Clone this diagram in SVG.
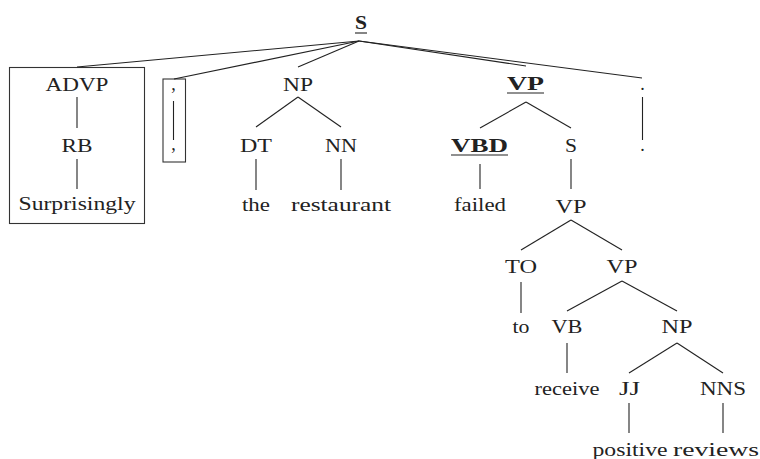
<svg xmlns="http://www.w3.org/2000/svg" width="760" height="459" viewBox="0 0 760 459">
<style>
text{font-family:'Liberation Serif','DejaVu Serif','Noto Serif',serif;font-size:18px;fill:#222;text-anchor:middle}
.b{font-weight:bold}
line{stroke:#222;stroke-width:1.1}
.box{fill:none;stroke:#333;stroke-width:1.1}
</style>
<rect width="760" height="459" fill="#fff"/>
<g id="boxes">
<rect class="box" x="9.5" y="67.5" width="135" height="156"/>
<rect class="box" x="163" y="79" width="22.5" height="83"/>
</g>
<g id="edges">
<line x1="359" y1="41" x2="77" y2="67"/>
<line x1="359" y1="41" x2="174" y2="79"/>
<line x1="359" y1="41" x2="298" y2="67"/>
<line x1="359" y1="41" x2="526" y2="66"/>
<line x1="359" y1="41" x2="642" y2="78"/>
<line x1="77" y1="97" x2="77" y2="128"/>
<line x1="77" y1="159" x2="77" y2="189"/>
<line x1="173.5" y1="101" x2="173.5" y2="140"/>
<line x1="642.5" y1="97" x2="642.5" y2="140"/>
<line x1="298" y1="97" x2="256" y2="127"/>
<line x1="298" y1="97" x2="341" y2="127"/>
<line x1="256" y1="159" x2="256" y2="190"/>
<line x1="341" y1="159" x2="341" y2="190"/>
<line x1="526" y1="102" x2="480" y2="128"/>
<line x1="526" y1="102" x2="571" y2="128"/>
<line x1="480" y1="164" x2="480" y2="189"/>
<line x1="571" y1="159" x2="571" y2="189"/>
<line x1="571" y1="220" x2="521" y2="250"/>
<line x1="571" y1="220" x2="622" y2="250"/>
<line x1="521" y1="282" x2="521" y2="313"/>
<line x1="622" y1="281" x2="567" y2="311"/>
<line x1="622" y1="281" x2="677" y2="311"/>
<line x1="567" y1="343" x2="567" y2="373"/>
<line x1="677" y1="343" x2="629" y2="373"/>
<line x1="677" y1="343" x2="723" y2="373"/>
<line x1="629" y1="403" x2="629" y2="433"/>
<line x1="723" y1="403" x2="723" y2="433"/>
</g>
<g id="n-S"><text class="b" x="361" y="29" textLength="12" lengthAdjust="spacingAndGlyphs">S</text><line x1="355" y1="33" x2="367" y2="33"/></g>
<g id="n-ADVP"><text x="77" y="91" textLength="63" lengthAdjust="spacingAndGlyphs">ADVP</text></g>
<g id="n-RB"><text x="77" y="152" textLength="31" lengthAdjust="spacingAndGlyphs">RB</text></g>
<g id="w-Surprisingly"><text x="77" y="210" textLength="117" lengthAdjust="spacingAndGlyphs">Surprisingly</text></g>
<g id="n-comma"><text x="173.5" y="90">,</text></g>
<g id="w-comma"><text x="173.5" y="150">,</text></g>
<g id="n-NP1"><text x="298" y="91" textLength="30" lengthAdjust="spacingAndGlyphs">NP</text></g>
<g id="n-DT"><text x="256" y="152" textLength="32" lengthAdjust="spacingAndGlyphs">DT</text></g>
<g id="n-NN"><text x="341" y="152" textLength="32" lengthAdjust="spacingAndGlyphs">NN</text></g>
<g id="w-the"><text x="256" y="211" textLength="28" lengthAdjust="spacingAndGlyphs">the</text></g>
<g id="w-restaurant"><text x="341" y="211" textLength="100" lengthAdjust="spacingAndGlyphs">restaurant</text></g>
<g id="n-VP1"><text class="b" x="525.5" y="89.5" textLength="37" lengthAdjust="spacingAndGlyphs">VP</text><line x1="507" y1="93" x2="544" y2="93"/></g>
<g id="n-period"><text x="642.5" y="90">.</text></g>
<g id="w-period"><text x="642.5" y="151">.</text></g>
<g id="n-VBD"><text class="b" x="479.5" y="151.5" textLength="57" lengthAdjust="spacingAndGlyphs">VBD</text><line x1="451" y1="155" x2="508" y2="155"/></g>
<g id="n-S2"><text x="571" y="152" textLength="12" lengthAdjust="spacingAndGlyphs">S</text></g>
<g id="w-failed"><text x="480" y="211" textLength="52" lengthAdjust="spacingAndGlyphs">failed</text></g>
<g id="n-VP2"><text x="571" y="212.5" textLength="31" lengthAdjust="spacingAndGlyphs">VP</text></g>
<g id="n-TO"><text x="521" y="273" textLength="32" lengthAdjust="spacingAndGlyphs">TO</text></g>
<g id="n-VP3"><text x="622" y="273" textLength="31" lengthAdjust="spacingAndGlyphs">VP</text></g>
<g id="w-to"><text x="521" y="333" textLength="17" lengthAdjust="spacingAndGlyphs">to</text></g>
<g id="n-VB"><text x="567" y="333" textLength="31" lengthAdjust="spacingAndGlyphs">VB</text></g>
<g id="n-NP2"><text x="677" y="333" textLength="31" lengthAdjust="spacingAndGlyphs">NP</text></g>
<g id="w-receive"><text x="567" y="395" textLength="65" lengthAdjust="spacingAndGlyphs">receive</text></g>
<g id="n-JJ"><text x="629.5" y="395" textLength="21" lengthAdjust="spacingAndGlyphs">JJ</text></g>
<g id="n-NNS"><text x="723" y="395" textLength="46" lengthAdjust="spacingAndGlyphs">NNS</text></g>
<g id="w-positive"><text x="630" y="456" textLength="75" lengthAdjust="spacingAndGlyphs">positive</text></g>
<g id="w-reviews"><text x="716" y="456" textLength="86" lengthAdjust="spacingAndGlyphs">reviews</text></g>
</svg>
